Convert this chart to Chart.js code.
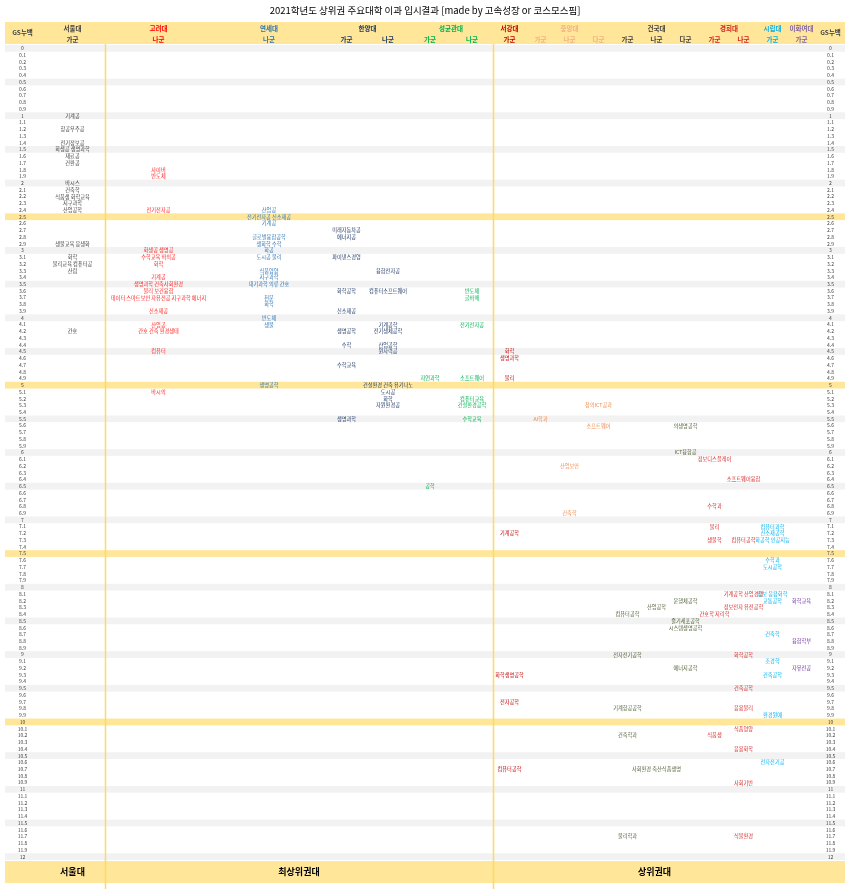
<!DOCTYPE html>
<html><head><meta charset="utf-8">
<script src="https://cdn.jsdelivr.net/npm/chart.js@4.4.0/dist/chart.umd.min.js"></script>
<style>html,body{margin:0;padding:0;background:#fff;}canvas{display:block;}</style>
</head><body>
<canvas id="c" width="850" height="889"></canvas>
<script>
const FONT = '"Noto Sans CJK KR", "Noto Sans", sans-serif';
const TITLE = '2021학년도 상위권 주요대학 이과 입시결과 [made by 고속성장 or 코스모스핌]';

// GS 누백 tick labels (0.0 ~ 12.0 step 0.1)
const gsTicks = Array.from({length: 121}, (_, i) => i / 10);
const yellowRows = [2.5, 5, 7.5, 10];

// university headers
const universities = ['서울대','고려대','연세대','한양대','성균관대','서강대','중앙대','건국대','경희대','시립대','이화여대'];
const subLabels = ['GS누백','가군','나군','나군','가군','나군','가군','나군','가군','가군','나군','다군','가군','나군','다군','가군','나군','가군','가군','GS누백'];
const tierLabels = ['서울대','최상위권대','상위권대'];

// data: [GS 누백, 학과]
const seoulGa = [[1,'기계공'],[1.2,'항공우주공'],[1.4,'전기정보공'],[1.5,'화생공 생명과학'],[1.6,'재료공'],[1.7,'건환공'],[2,'바시스'],[2.1,'건축학'],[2.2,'식품생 화학교육'],[2.3,'지구과학'],[2.4,'산업공학'],[2.9,'생물교육 응생화'],[3.1,'화학'],[3.2,'물리교육 컴퓨터공'],[3.3,'산림'],[4.2,'간호']];
const koreaNa = [[1.8,'사이버'],[1.9,'반도체'],[2.4,'전기전자공'],[3,'화생공 생명공'],[3.1,'수학교육 바의공'],[3.2,'화학'],[3.4,'기계공'],[3.5,'생명과학 건축사회환경'],[3.6,'물리 보건융합'],[3.7,'데이터 스마트보안 자유전공 지구과학 에너지'],[3.9,'신소재공'],[4.1,'산업공'],[4.2,'간호 건축 환경생태'],[4.5,'컴퓨터'],[5.1,'바시의']];
const yonseiNa = [[2.4,'산업공'],[2.5,'전기전자공 신소재공'],[2.6,'기계공'],[2.8,'글로벌융합공학'],[2.9,'생화학 수학'],[3,'화공'],[3.1,'도시공 물리'],[3.3,'식품영양'],[3.4,'지구과학'],[3.5,'대기과학 의류 간호'],[3.7,'천문'],[3.8,'화학'],[4,'반도체'],[4.1,'생물'],[5,'생명공학']];
const hanyangGa = [[2.7,'미래자동차공'],[2.8,'에너지공'],[3.1,'파이낸스경영'],[3.6,'화학공학'],[3.9,'신소재공'],[4.2,'생명공학'],[4.4,'수학'],[4.7,'수학교육'],[5.5,'생명과학']];
const hanyangNa = [[3.3,'융합전자공'],[3.6,'컴퓨터소프트웨어'],[4.1,'기계공학'],[4.2,'전기생체공학'],[4.4,'산업공학'],[4.5,'원자력공'],[5,'건설환경 건축 유기나노'],[5.1,'도시공'],[5.2,'화학'],[5.3,'자원환경공']];
const skkuGa = [[4.9,'자연과학'],[6.5,'공학']];
const skkuNa = [[3.6,'반도체'],[3.7,'글바메'],[4.1,'전기전자공'],[4.9,'소프트웨어'],[5.2,'컴퓨터교육'],[5.3,'건설환경공학'],[5.5,'수학교육']];
const sogangGa = [[4.5,'화학'],[4.6,'생명과학'],[4.9,'물리'],[7.2,'기계공학'],[9.3,'화학생명공학'],[9.7,'전자공학'],[10.7,'컴퓨터공학']];
const cauGa = [[5.5,'AI학과']];
const cauNa = [[6.2,'산업보안'],[6.9,'건축학']];
const cauDa = [[5.3,'창의ICT공과'],[5.6,'소프트웨어']];
const konkukGa = [[8.4,'컴퓨터공학'],[9,'전자전기공학'],[9.8,'기계항공공학'],[10.2,'건축학과'],[11.7,'물리학과']];
const konkukNa = [[8.3,'산업공학'],[10.7,'사회환경 축산식품생명']];
const konkukDa = [[5.6,'의생명공학'],[6,'ICT융합공'],[8.2,'운행체공학'],[8.5,'줄기세포공학'],[8.6,'시스템생명공학'],[9.2,'에너지공학']];
const khuGa = [[6.1,'정보디스플레이'],[6.8,'수학과'],[7.1,'물리'],[7.3,'생물학'],[8.4,'간호학 지리학'],[10.2,'식품생']];
const khuNa = [[6.4,'소프트웨어융합'],[7.3,'컴퓨터공학'],[8.1,'기계공학 산업경영'],[8.3,'정보전자 유전공학'],[9,'화학공학'],[9.5,'건축공학'],[9.8,'응용물리'],[10.1,'식품영양'],[10.4,'응용화학'],[10.9,'사회기반'],[11.7,'식물환경']];
const uosGa = [[7.1,'컴퓨터과학'],[7.2,'신소재공학'],[7.3,'화공학 인공지능'],[7.6,'수학과'],[7.7,'도시공학'],[8.1,'정보 응용화학'],[8.2,'교통공학'],[8.7,'건축학'],[9.1,'조경학'],[9.3,'건축공학'],[9.9,'환경원예'],[10.6,'전자전기공']];
const ewhaGa = [[8.2,'화학교육'],[8.8,'융합학부'],[9.2,'자유전공']];

// layout / style config
const columnWidths = [35,65,107,114,41,42,42,42,33,29,29,29,29,29,29,29,29,29,29,29];
const columnData = [null,seoulGa,koreaNa,yonseiNa,hanyangGa,hanyangNa,skkuGa,skkuNa,sogangGa,cauGa,cauNa,cauDa,konkukGa,konkukNa,konkukDa,khuGa,khuNa,uosGa,ewhaGa,null];
const columnUni = [-1,0,1,2,3,3,4,4,5,6,6,6,7,7,7,8,8,9,10,-1];
const uniSpans = [[1,1],[2,2],[3,3],[4,5],[6,7],[8,8],[9,11],[12,14],[15,16],[17,17],[18,18]];
const tierSpans = [[1,1],[2,7],[8,18]];
const headColors = ['#404040','#FF0000','#2E75B6','#1F3864','#00B050','#C00000','#F4B183','#404040','#D42020','#00B0F0','#8064A2'];
const bodyColors = ['#404040','#FF2020','#2E75B6','#1F3864','#00B050','#C00000','#F08A50','#4F5F35','#D42828','#00B0F0','#7030A0'];

const colStart = [];
let acc = 0;
columnWidths.forEach(w => { colStart.push(acc); acc += w; });
const totalW = acc;
const colCenter = i => colStart[i] + columnWidths[i] / 2;
const colLeft = i => colStart[i];
const colRight = i => colStart[i] + columnWidths[i];

const datasets = [];
columnData.forEach((arr, ci) => {
  if (!arr) return;
  datasets.push({
    label: subLabels[ci],
    data: arr.map(([v]) => ({x: colCenter(ci), y: v})),
    texts: arr.map(([, t]) => t),
    color: bodyColors[columnUni[ci]],
    pointRadius: 0, pointHoverRadius: 0, showLine: false
  });
});

const tablePlugin = {
  id: 'table',
  beforeDatasetsDraw(chart) {
    const ctx = chart.ctx, xs = chart.scales.x, ys = chart.scales.y;
    const L = xs.getPixelForValue(0), R = xs.getPixelForValue(totalW);
    ctx.save();
    // title
    ctx.fillStyle = '#000';
    ctx.font = '9.5px ' + FONT;
    ctx.textAlign = 'center'; ctx.textBaseline = 'middle';
    ctx.fillText(TITLE, (L + R) / 2, 10);
    // header band
    ctx.fillStyle = '#FFE699';
    ctx.fillRect(L, 22, R - L, 22);
    // row bands
    gsTicks.forEach(v => {
      const i = Math.round(v * 10);
      if (i % 5 !== 0) return;
      const t = ys.getPixelForValue(v - 0.05), b = ys.getPixelForValue(v + 0.05);
      ctx.fillStyle = yellowRows.includes(v) ? '#FFE699' : '#F2F2F2';
      ctx.fillRect(L, t, R - L, b - t);
    });
    // footer band
    ctx.fillStyle = '#FFE699';
    ctx.fillRect(L, 861, R - L, 22);
    // vertical separators
    ctx.strokeStyle = '#FFD966'; ctx.lineWidth = 1.5;
    [2, 8].forEach(ci => {
      const x = Math.round(xs.getPixelForValue(colLeft(ci))) + 0.5;
      ctx.beginPath(); ctx.moveTo(x, 44); ctx.lineTo(x, 889); ctx.stroke();
    });
    // tick labels
    ctx.fillStyle = '#404040';
    ctx.font = '5px ' + FONT;
    gsTicks.forEach(v => {
      const y = ys.getPixelForValue(v);
      ctx.fillText(String(v), xs.getPixelForValue(colCenter(0)), y);
      ctx.fillText(String(v), xs.getPixelForValue(colCenter(19)), y);
    });
    // header texts
    ctx.font = 'bold 6.5px ' + FONT;
    ctx.fillStyle = '#404040';
    ctx.fillText(subLabels[0], xs.getPixelForValue(colCenter(0)), 33);
    ctx.fillText(subLabels[19], xs.getPixelForValue(colCenter(19)), 33);
    uniSpans.forEach(([a, b], ui) => {
      const x = (xs.getPixelForValue(colLeft(a)) + xs.getPixelForValue(colRight(b))) / 2;
      ctx.fillStyle = headColors[ui];
      ctx.fillText(universities[ui], x, 28.5);
    });
    for (let ci = 1; ci <= 18; ci++) {
      ctx.fillStyle = headColors[columnUni[ci]];
      ctx.fillText(subLabels[ci], xs.getPixelForValue(colCenter(ci)), 39.5);
    }
    // footer texts
    ctx.font = 'bold 9px ' + FONT;
    ctx.fillStyle = '#000';
    tierSpans.forEach(([a, b], ti) => {
      const x = (xs.getPixelForValue(colLeft(a)) + xs.getPixelForValue(colRight(b))) / 2;
      ctx.fillText(tierLabels[ti], x, 872);
    });
    ctx.restore();
  },
  afterDatasetsDraw(chart) {
    const ctx = chart.ctx;
    ctx.save();
    ctx.font = '5.2px ' + FONT;
    ctx.textAlign = 'center'; ctx.textBaseline = 'middle';
    chart.data.datasets.forEach((ds, di) => {
      const meta = chart.getDatasetMeta(di);
      ctx.fillStyle = ds.color;
      meta.data.forEach((el, i) => ctx.fillText(ds.texts[i], el.x, el.y));
    });
    ctx.restore();
  }
};

new Chart(document.getElementById('c'), {
  type: 'scatter',
  data: { datasets },
  options: {
    responsive: false, animation: false, devicePixelRatio: 1,
    events: [],
    layout: { padding: { left: 5, right: 5, top: 45, bottom: 29 } },
    plugins: { legend: { display: false }, tooltip: { enabled: false }, title: { display: false } },
    scales: {
      x: { type: 'linear', min: 0, max: totalW, display: false },
      y: { type: 'linear', min: -0.05, max: 12.05, reverse: true, display: false }
    }
  },
  plugins: [tablePlugin]
});
</script>
</body></html>
